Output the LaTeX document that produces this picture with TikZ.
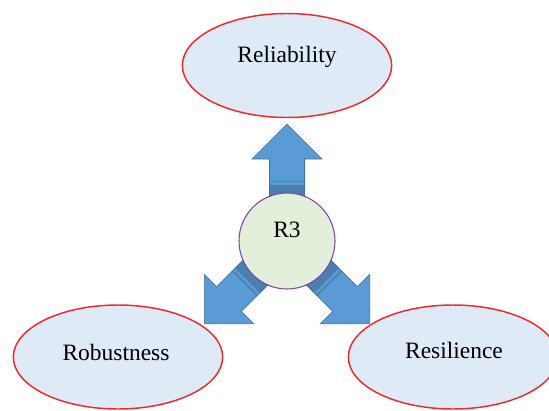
\documentclass[tikz,border=0pt]{standalone}
\usepackage{fontspec}
\setmainfont{Liberation Serif}
\usetikzlibrary{shapes.geometric}

\definecolor{ovalfill}{HTML}{DEEAF6}
\definecolor{ovalline}{HTML}{F0282D}
\definecolor{hubfill}{HTML}{E2EFDA}
\definecolor{hubline}{HTML}{7F45A8}
\definecolor{arrowblue}{HTML}{5B9BD5}
\definecolor{arrowdark}{HTML}{4A7FB0}
\definecolor{arrowline}{HTML}{41719C}

\tikzset{
  oval/.style={ellipse, draw=ovalline, fill=ovalfill, line width=1.1pt,
    minimum width=157pt, minimum height=78pt, inner sep=0pt},
  hubnode/.style={circle, draw=hubline, fill=hubfill, line width=0.8pt,
    minimum size=72pt, inner sep=0pt},
  txt/.style={inner sep=0pt, font=\fontsize{17.6}{20}\selectfont},
  blockarrow/.pic={
    \fill[arrowblue] (44,-17.5) -- (82,-17.5) -- (82,-35) -- (117,0)
      -- (82,35) -- (82,17.5) -- (44,17.5) -- cycle;
    \fill[arrowdark] (44,-17.5) rectangle (56,17.5);
    \draw[arrowdark, line width=1.2pt] (59.5,-17.5) -- (59.5,17.5);
    \draw[arrowline, line width=0.4pt] (44,-17.5) -- (82,-17.5) -- (82,-35)
      -- (117,0) -- (82,35) -- (82,17.5) -- (44,17.5);
  }
}

\begin{document}
\begin{tikzpicture}[x=0.75pt,y=-0.75pt]
\useasboundingbox (0,0) rectangle (549,410);
\clip (0,0) rectangle (549,410);

\node[oval] (rel) at (287,65.5) {};
\node[oval] (rob) at (118,357) {};
\node[oval] (res) at (453,357) {};

\node[txt] (reltxt) at (287,56.5) {Reliability};
\node[txt] (robtxt) at (116,352) {Robustness};
\node[txt] (restxt) at (454,350) {Resilience};

\coordinate (hub) at (287,241);
\pic[rotate=90] (toprel) at (hub) {blockarrow};
\pic[rotate=225] (torob) at (hub) {blockarrow};
\pic[rotate=315] (tores) at (hub) {blockarrow};

\node[hubnode] (r3) at (hub) {};
\node[txt] (r3txt) at (287,230) {R3};
\end{tikzpicture}
\end{document}
